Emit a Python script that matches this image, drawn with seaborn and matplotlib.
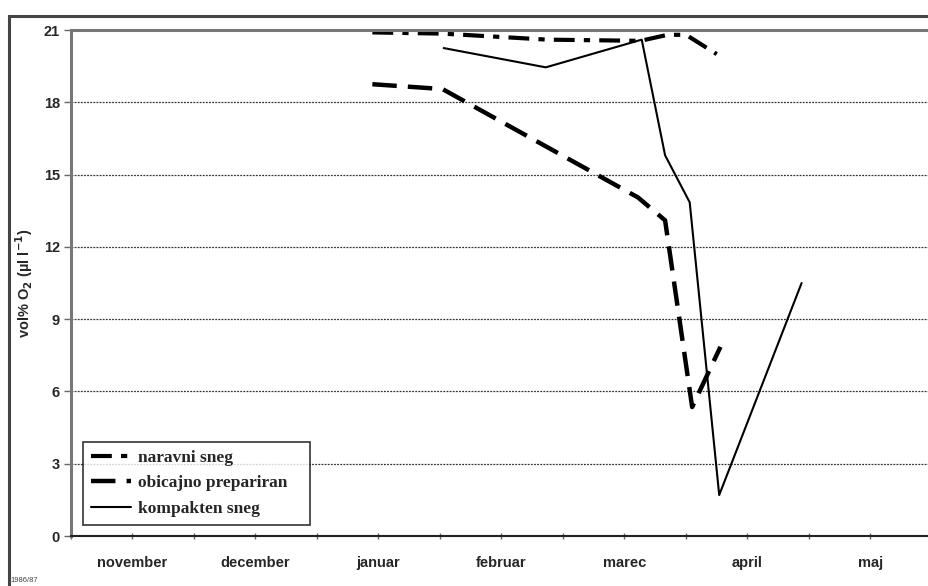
import numpy as np
import pandas as pd
import matplotlib
matplotlib.use("Agg")
import matplotlib.pyplot as plt
import seaborn as sns
from matplotlib.patches import Rectangle

# x position in months counted from start of november
months = ["november", "december", "januar", "februar", "marec", "april", "maj"]

naravni_x = [2.45, 3.02, 3.87, 4.63, 4.85, 5.00, 5.25]
naravni_y = [20.9, 20.85, 20.6, 20.55, 20.8, 20.8, 20.0]

obicajno_x = [2.45, 3.02, 4.61, 4.83, 5.05, 5.28]
obicajno_y = [18.75, 18.55, 14.05, 13.1, 5.35, 7.85]

kompakten_x = [3.03, 3.86, 4.64, 4.83, 5.03, 5.27, 5.94]
kompakten_y = [20.25, 19.45, 20.6, 15.8, 13.85, 1.7, 10.5]

sns.set_style("white")
plt.rcParams["font.family"] = ["Liberation Sans", "DejaVu Sans"]

fig = plt.figure(figsize=(9.29, 5.86), dpi=100)
ax = fig.add_axes([71 / 929, 1 - 536 / 586, 861 / 929, 506 / 586])

# outer frame of the original figure
fig.patches.append(Rectangle((9 / 929, -0.05), 1.1, 1 - 16 / 586 + 0.05,
                             transform=fig.transFigure, fill=False,
                             edgecolor="#444444", lw=2.2))

sns.lineplot(x=naravni_x, y=naravni_y, ax=ax, sort=False, color="black",
             lw=3, label="naravni sneg")
sns.lineplot(x=obicajno_x, y=obicajno_y, ax=ax, sort=False, color="black",
             lw=3.2, label="obicajno prepariran")
sns.lineplot(x=kompakten_x, y=kompakten_y, ax=ax, sort=False, color="black",
             lw=1.5, label="kompakten sneg")
ax.lines[0].set_dashes([5, 2.2, 1.5, 2.2])
ax.lines[1].set_dashes([5.5, 2.5])

ax.set_xlim(0, 7)
ax.set_ylim(0, 21)
ax.set_yticks(np.arange(0, 22, 3))
ax.set_yticklabels([str(v) for v in range(0, 22, 3)], fontweight="bold", fontsize=10.5)
ax.set_xticks(np.arange(0.5, 7, 1))
ax.set_xticklabels(months, fontweight="bold", fontsize=10.5)
ax.set_xticks(np.arange(0, 7.01, 1), minor=True)
ax.tick_params(axis="x", which="both", bottom=True, direction="inout",
               length=5, width=1, color="#666666")
ax.tick_params(axis="x", which="major", pad=12)
ax.tick_params(axis="y", left=True, direction="out", length=5, width=1,
               color="#666666", pad=3)

for v in range(3, 19, 3):
    ax.axhline(v, color="#333333", lw=0.9, ls=(0, (1.5, 1)), zorder=0)

ax.spines["left"].set_color("#777777")
ax.spines["left"].set_linewidth(2.2)
ax.spines["top"].set_color("#777777")
ax.spines["top"].set_linewidth(2.2)
ax.spines["bottom"].set_color("#222222")
ax.spines["bottom"].set_linewidth(1.5)
ax.spines["right"].set_visible(False)

ax.set_ylabel("vol% O$_\\mathbf{2}$ (µl l$^{\\mathbf{-1}}$)", fontweight="bold",
              fontsize=10.5)
ax.yaxis.set_label_coords(-0.042, 0.5)

leg = ax.legend(loc="lower left", bbox_to_anchor=(0.014, 0.022, 0.264, 0.2),
                mode="expand", borderaxespad=0,
                frameon=True, fancybox=False, edgecolor="black",
                handlelength=2.3, handletextpad=0.4, borderpad=0.45,
                labelspacing=0.55,
                prop={"family": "Liberation Serif", "weight": "bold", "size": 12.5})
leg.get_frame().set_linewidth(1.2)

fig.text(10 / 929, 1 - 580 / 586, "1986/87", fontsize=5.5, color="#444444",
         va="center")

fig.savefig("out.png", dpi=100)
